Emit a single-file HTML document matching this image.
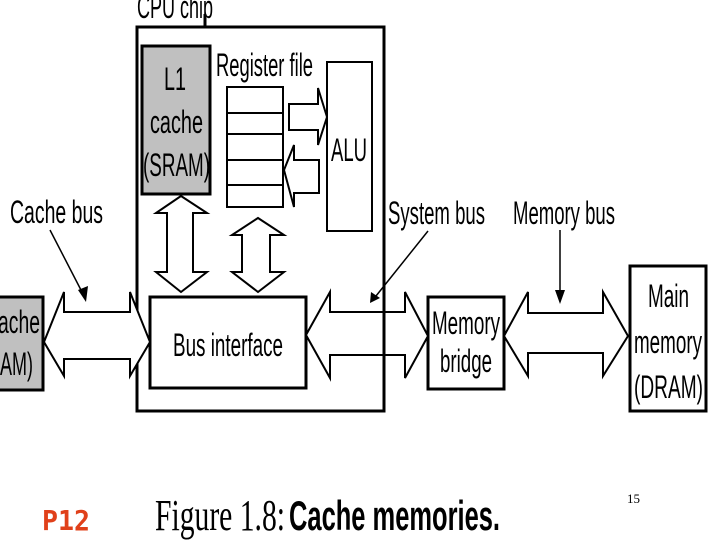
<!DOCTYPE html>
<html><head><meta charset="utf-8"><style>
html,body{margin:0;padding:0;background:#fff;}
svg{display:block;}
text{font-family:"Liberation Sans",sans-serif;fill:#000;}
</style></head><body>
<svg width="720" height="540" viewBox="0 0 720 540" xmlns="http://www.w3.org/2000/svg">
<g fill="none" stroke="#000" stroke-width="3">
<rect x="137" y="27" width="247" height="384"/>
<line x1="205" y1="14" x2="205" y2="27"/>
<rect x="142" y="46" width="68" height="148" fill="#c0c0c0"/>
<rect x="327" y="62" width="45" height="169" stroke-width="2"/>
<rect x="227" y="87" width="56" height="120" stroke-width="2"/>
<line x1="227" y1="113" x2="283" y2="113" stroke-width="2"/>
<line x1="227" y1="134" x2="283" y2="134" stroke-width="2"/>
<line x1="227" y1="160" x2="283" y2="160" stroke-width="2"/>
<line x1="227" y1="185" x2="283" y2="185" stroke-width="2"/>
<rect x="150" y="297" width="156" height="91"/>
<rect x="-5" y="297" width="48" height="93" fill="#c0c0c0"/>
<rect x="428" y="297" width="76" height="92"/>
<rect x="630" y="266" width="76" height="145"/>
</g>
<g fill="#fff" stroke="#000" stroke-width="2" stroke-linejoin="miter">
<polygon points="289,104 318,104 318,88 327,117 318,145 318,130 289,130"/>
<polygon points="284,170 294,145 294,160 319,160 319,193 294,193 294,207"/>
<polygon points="181,196 207,213 193,213 193,272 207,272 181,292 156,272 167,272 167,213 156,213"/>
<polygon points="258,218 284,235 270,235 270,272 284,272 258,292 232,272 242,272 242,235 232,235"/>
<polygon points="44,342 64,292 64,312 130,312 130,292 150,342 130,376 130,359 64,359 64,376"/>
<polygon points="306,335 330,292 330,312 405,312 405,292 428,336 405,378 405,355 330,355 330,378"/>
<polygon points="504,336 528,292 528,313 603,313 603,292 628,336 603,376 603,353 528,353 528,376"/>
</g>
<line x1="384" y1="27" x2="384" y2="411" stroke="#000" stroke-width="3"/>
<g stroke="#000" stroke-width="1.5">
<line x1="50" y1="230" x2="82" y2="292"/>
<line x1="428" y1="231" x2="376" y2="296"/>
<line x1="560" y1="230" x2="560" y2="292"/>
</g>
<g fill="#000">
<polygon points="78,290 88,286 86,302"/>
<polygon points="371,292 380,298 370,303"/>
<polygon points="555,290 565,290 560,304"/>
</g>
<g font-size="32" fill="#222">
<text x="137" y="18" textLength="76" lengthAdjust="spacingAndGlyphs">CPU chip</text>
<text x="216" y="76" textLength="97" lengthAdjust="spacingAndGlyphs">Register file</text>
<text x="164" y="90" textLength="22" lengthAdjust="spacingAndGlyphs">L1</text>
<text x="150" y="133" textLength="53" lengthAdjust="spacingAndGlyphs">cache</text>
<text x="143" y="176" textLength="67" lengthAdjust="spacingAndGlyphs">(SRAM)</text>
<text x="331" y="161" textLength="36" lengthAdjust="spacingAndGlyphs">ALU</text>
<text x="10" y="223" textLength="93" lengthAdjust="spacingAndGlyphs">Cache bus</text>
<text x="388" y="224" textLength="97" lengthAdjust="spacingAndGlyphs">System bus</text>
<text x="513" y="224" textLength="102" lengthAdjust="spacingAndGlyphs">Memory bus</text>
<text x="173" y="356" textLength="110" lengthAdjust="spacingAndGlyphs">Bus interface</text>
<text x="-2" y="333" textLength="42" lengthAdjust="spacingAndGlyphs">ache</text>
<text x="0" y="375" textLength="33" lengthAdjust="spacingAndGlyphs">AM)</text>
<text x="432" y="334" textLength="68" lengthAdjust="spacingAndGlyphs">Memory</text>
<text x="440" y="372" textLength="52" lengthAdjust="spacingAndGlyphs">bridge</text>
<text x="648" y="307" textLength="41" lengthAdjust="spacingAndGlyphs">Main</text>
<text x="634" y="353" textLength="68" lengthAdjust="spacingAndGlyphs">memory</text>
<text x="634" y="398" textLength="69" lengthAdjust="spacingAndGlyphs">(DRAM)</text>
</g>
<text x="155" y="530" font-size="44" textLength="130" lengthAdjust="spacingAndGlyphs" style="font-family:'Liberation Serif',serif">Figure 1.8:</text>
<text x="289" y="530" font-size="42" font-weight="bold" textLength="211" lengthAdjust="spacingAndGlyphs">Cache memories.</text>
<text x="42" y="530" font-size="28" font-weight="bold" style="fill:#e0401a;font-family:'DejaVu Sans Mono',monospace" textLength="48" lengthAdjust="spacingAndGlyphs">P12</text>
<text x="627" y="503" font-size="13" style="font-family:'Liberation Serif',serif">15</text>
</svg>
</body></html>
